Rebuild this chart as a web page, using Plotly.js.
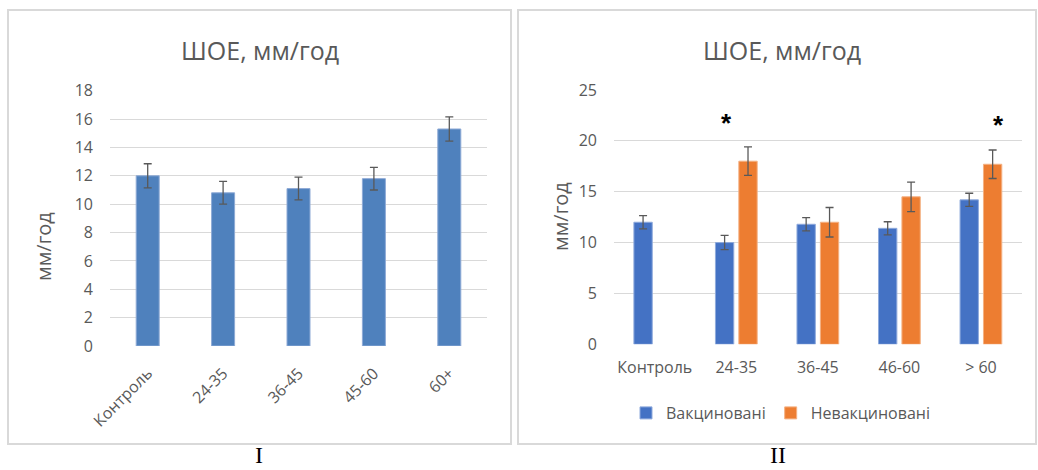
<!DOCTYPE html>
<html>
<head>
<meta charset="utf-8">
<script src="https://cdn.plot.ly/plotly-3.0.1.min.js"></script>
<style>
  html, body { margin: 0; padding: 0; background: #ffffff; }
  #chart { width: 1038px; height: 470px; }
</style>
</head>
<body>
<div id="chart"></div>
<script>
// Panel I: ESR by age group, all subjects
const ageGroupsI = ['Контроль', '24-35', '36-45', '45-60', '60+'];
const esrI = [12.0, 10.8, 11.1, 11.8, 15.3];
const esrErrI = [0.85, 0.8, 0.8, 0.8, 0.85];

// Panel II: ESR by age group, vaccinated vs unvaccinated
const ageGroupsII = ['Контроль', '24-35', '36-45', '46-60', '> 60'];
const esrVaccinated = [12.0, 10.0, 11.8, 11.4, 14.2];
const errVaccinated = [0.65, 0.7, 0.65, 0.65, 0.65];
const esrUnvaccinated = [null, 18.0, 12.0, 14.5, 17.7];
const errUnvaccinated = [null, 1.4, 1.45, 1.45, 1.4];
const seriesNames = ['Вакциновані', 'Невакциновані'];
const significantGroups = ['24-35', '> 60'];

const W = 1038, H = 470;
const px = x => x / W;
const py = y => 1 - y / H;

const grey = '#595959';
const font = 'Open Sans, Noto Sans, sans-serif';
const errStyle = c => ({ type: 'data', array: c, visible: true, color: '#595959', thickness: 1.3, width: 4 });

const traces = [
  {
    type: 'bar', x: ageGroupsI, y: esrI, xaxis: 'x', yaxis: 'y',
    width: 0.305, offset: -0.1525,
    marker: { color: '#4F81BD', line: { color: '#8EAAD6', width: 1 } },
    error_y: errStyle(esrErrI), showlegend: false, hoverinfo: 'x+y'
  },
  {
    type: 'bar', name: seriesNames[0], x: ageGroupsII, y: esrVaccinated, xaxis: 'x2', yaxis: 'y2',
    width: 0.225, offset: -0.256,
    marker: { color: '#4472C4', line: { color: '#8FAADC', width: 1 } },
    error_y: errStyle(errVaccinated)
  },
  {
    type: 'bar', name: seriesNames[1], x: ageGroupsII, y: esrUnvaccinated, xaxis: 'x2', yaxis: 'y2',
    width: 0.225, offset: 0.031,
    marker: { color: '#ED7D31', line: { color: '#F4B183', width: 1 } },
    error_y: errStyle(errUnvaccinated)
  }
];

const axisCommon = {
  showline: false, zeroline: false, ticks: '', fixedrange: true,
  tickfont: { family: font, size: 16, color: grey }
};

// text placed at an exact pixel spot on the page
const label = (text, x, y, size, extra) => Object.assign({
  text: text, xref: 'paper', yref: 'paper', x: px(x), y: py(y),
  xanchor: 'center', yanchor: 'middle', showarrow: false,
  font: { family: font, size: size, color: grey }
}, extra || {});

const serifFont = { family: 'Liberation Serif, Times New Roman, serif', size: 24, color: '#000000' };

const layout = {
  width: W, height: H,
  margin: { l: 0, r: 0, t: 0, b: 0 },
  paper_bgcolor: '#ffffff', plot_bgcolor: 'rgba(0,0,0,0)',
  barmode: 'overlay',
  font: { family: font, color: grey },
  xaxis: Object.assign({}, axisCommon, {
    domain: [px(110), px(487)], anchor: 'y', showgrid: false,
    tickangle: -45, ticklabelstandoff: 14
  }),
  yaxis: Object.assign({}, axisCommon, {
    domain: [py(346), py(90.7)], anchor: 'x', range: [0, 18], dtick: 2,
    showgrid: true, gridcolor: '#d9d9d9', gridwidth: 1, ticklabelstandoff: 16
  }),
  xaxis2: Object.assign({}, axisCommon, {
    domain: [px(614), px(1021.7)], anchor: 'y2', showgrid: false,
    tickangle: 0, ticklabelstandoff: 12
  }),
  yaxis2: Object.assign({}, axisCommon, {
    domain: [py(344.3), py(90)], anchor: 'x2', range: [0, 25], dtick: 5,
    showgrid: true, gridcolor: '#d9d9d9', gridwidth: 1, ticklabelstandoff: 16
  }),
  showlegend: true,
  legend: {
    orientation: 'h', x: px(626), xanchor: 'left', y: py(413), yanchor: 'middle',
    font: { family: font, size: 16, color: grey }, itemwidth: 30,
    bgcolor: 'rgba(0,0,0,0)'
  },
  shapes: [
    { type: 'rect', xref: 'paper', yref: 'paper', x0: px(8), x1: px(511), y0: py(444), y1: py(10),
      line: { color: '#d9d9d9', width: 2 } },
    { type: 'rect', xref: 'paper', yref: 'paper', x0: px(518), x1: px(1036), y0: py(444), y1: py(10),
      line: { color: '#d9d9d9', width: 2 } }
  ],
  annotations: [
    label('ШОЕ, мм/год', 260, 50, 25),
    label('ШОЕ, мм/год', 782, 50, 25),
    label('мм/год', 43, 247, 20, { textangle: -90 }),
    label('мм/год', 560, 217, 20, { textangle: -90 }),
    label('I', 259, 469, 24, { yanchor: 'bottom', borderpad: 0, font: serifFont }),
    label('II', 778, 469, 24, { yanchor: 'bottom', borderpad: 0, font: serifFont }),
    { text: '<b>*</b>', xref: 'x2', yref: 'y2', x: significantGroups[0], y: 21.8, xshift: -9.5,
      xanchor: 'center', yanchor: 'middle', showarrow: false,
      font: { family: 'Liberation Sans, sans-serif', size: 26, color: '#000000' } },
    { text: '<b>*</b>', xref: 'x2', yref: 'y2', x: significantGroups[1], y: 21.6, xshift: 17.6,
      xanchor: 'center', yanchor: 'middle', showarrow: false,
      font: { family: 'Liberation Sans, sans-serif', size: 26, color: '#000000' } }
  ]
};

Plotly.newPlot('chart', traces, layout, { staticPlot: true, displayModeBar: false });
</script>
</body>
</html>
